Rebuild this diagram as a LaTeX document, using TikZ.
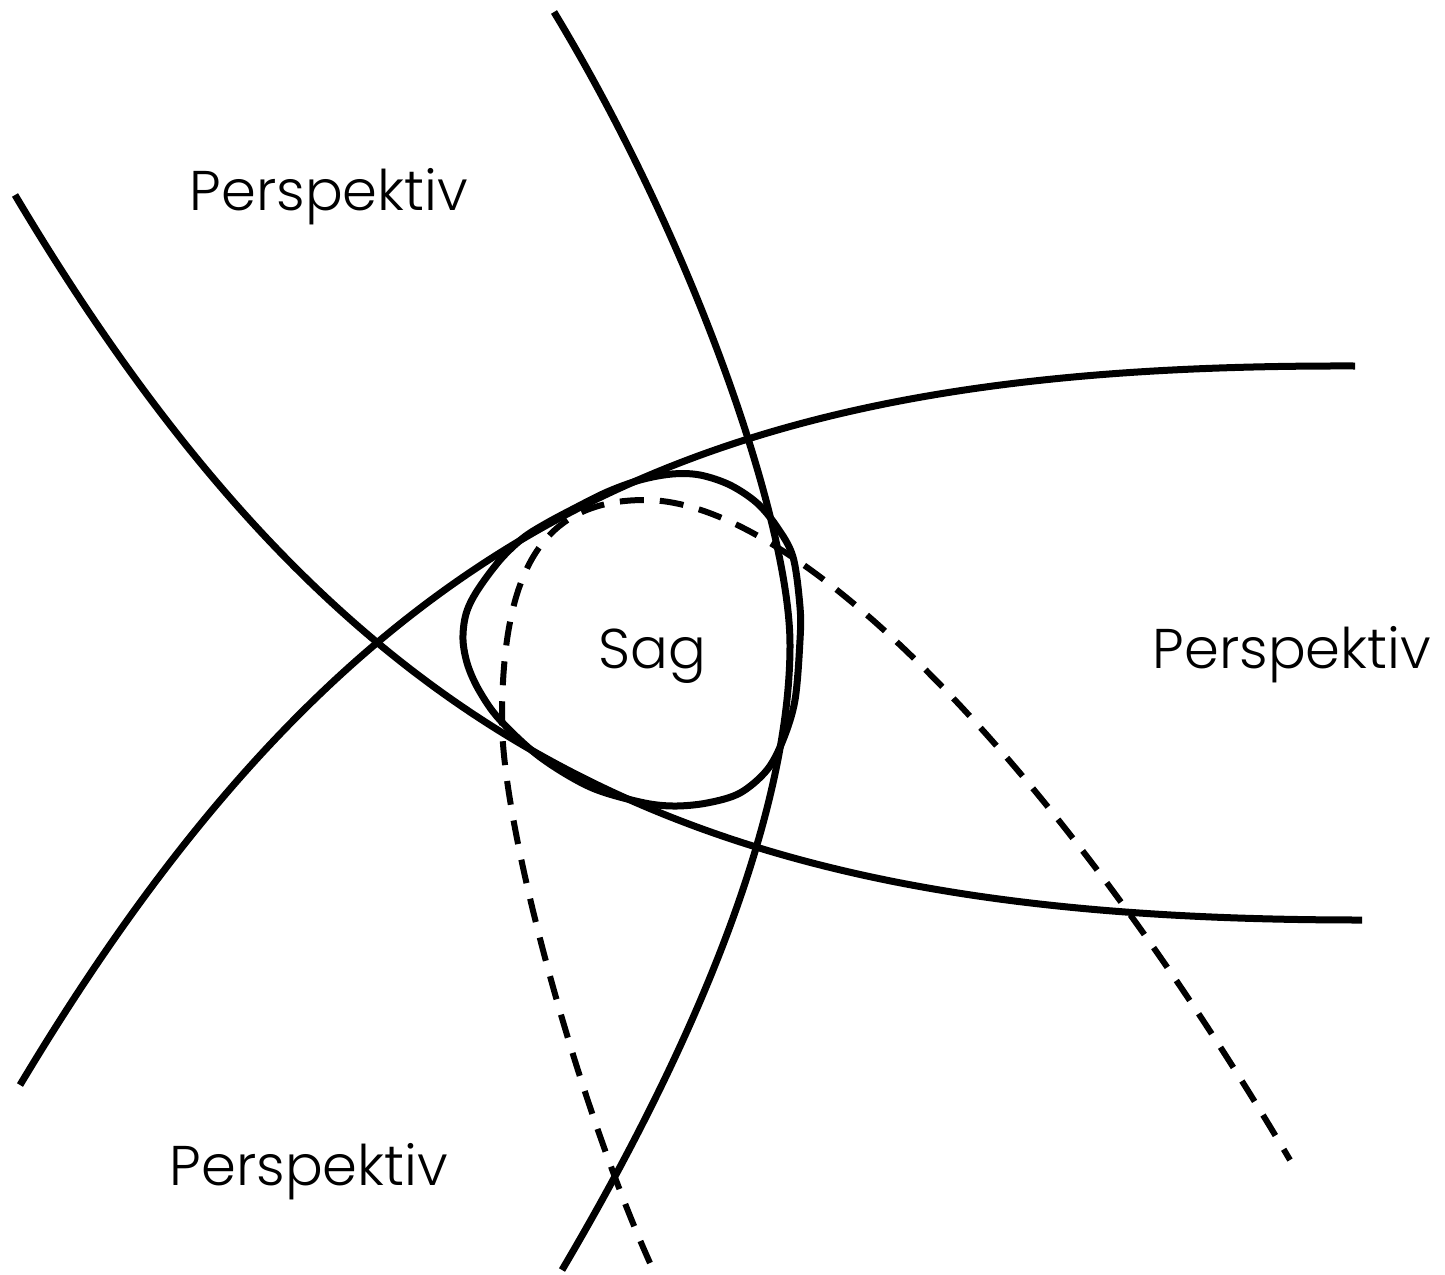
\documentclass[tikz,border=0pt]{standalone}
\usepackage{fontspec}
\setmainfont{Poppins Light}
\begin{document}
\begin{tikzpicture}[x=1pt,y=-1pt,
  solidcurve/.style={line width=7pt},
  dashcurve/.style={line width=6pt, dash pattern=on 24pt off 16pt},
  lbl/.style={anchor=base, inner sep=0pt, font=\fontsize{56}{68}\selectfont}]
\useasboundingbox (0,0) rectangle (1445,1274);
% curve A (top half, bottom half)
\draw[solidcurve] (554,12) .. controls (696,247) and (790,525) .. (790,645)
                           .. controls (790,788) and (722,999) .. (562,1270);
% curve B
\draw[solidcurve] (15,195) .. controls (360,775) and (721,920) .. (1362,920);
% curve C
\draw[solidcurve] (20,1085) .. controls (369,502) and (726,364) .. (1355,366);
% rounded triangle
\draw[solidcurve] plot[smooth cycle, tension=0.55] coordinates {(463,640) (466,614) (477,591) (500,560) (523,538) (545,524) (573,509) (607,492) (640,480) (672,474) (700,475) (730,485) (757,503) (777,527) (793,557) (800,607) (800,640) (795,700) (783,740) (767,770) (740,793) (707,803) (673,806) (640,802) (590,787) (540,757) (500,720) (480,692) (468,666)};
% dashed curve
\draw[dashcurve] (650,1263) .. controls (576,1098) and (502,827) .. (502,720)
                            .. controls (502,566) and (545,500) .. (645,500)
                            .. controls (798,500) and (1056,764) .. (1290,1160);
\node[lbl] (ptop) at (329,210) {Perspektiv};
\node[lbl] (pright) at (1292,668) {Perspektiv};
\node[lbl] (pbot) at (309,1185) {Perspektiv};
\node[lbl] (sag) at (652,668) {Sag};
\end{tikzpicture}
\end{document}
